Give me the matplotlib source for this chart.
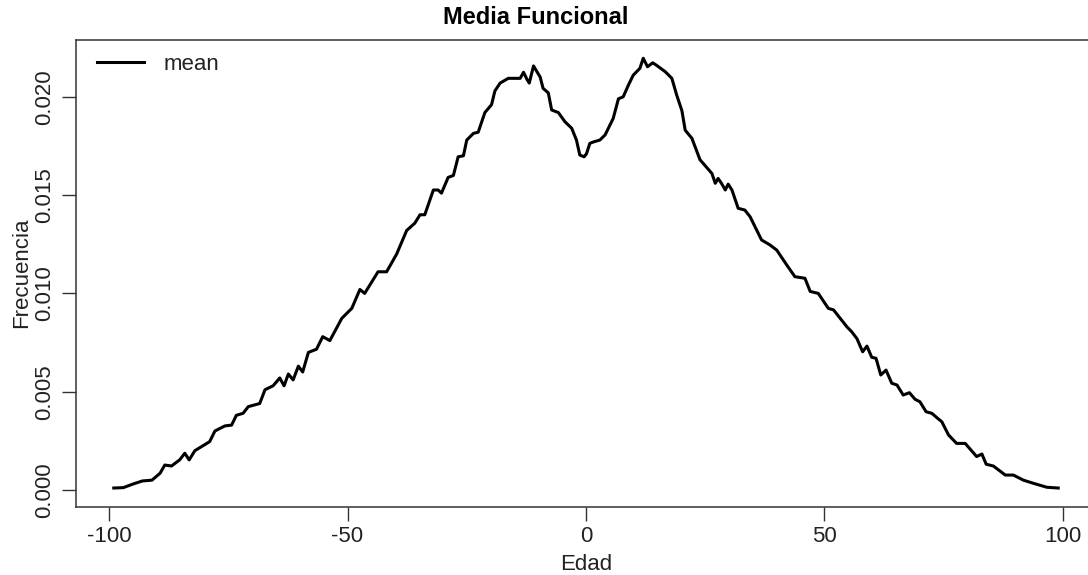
import matplotlib
matplotlib.use("Agg")
import matplotlib.pyplot as plt
from matplotlib.ticker import FormatStrFormatter

plt.rcParams['font.family'] = ['Liberation Sans', 'DejaVu Sans']
plt.rcParams['axes.unicode_minus'] = False

# Traced data (Edad vs Frecuencia)
edad = [-99, -97, -95, -93, -91, -89.3, -88.3, -86.9, -85.2, -84.1, -83.2, -82,
        -78.9, -77.8, -75.7, -74.3, -73.3, -71.9, -70.8, -68.4, -67.3, -65.6,
        -64.2, -63.3, -62.4, -61.4, -60.3, -59.4, -58.2, -56.5, -55.2, -53.7,
        -51.2, -49.1, -47.4, -46.4, -43.6, -41.8, -39.7, -37.6, -35.9, -34.8,
        -33.8, -32.0, -31.0, -30.3, -28.9, -27.8, -26.8, -25.7, -25.0, -23.6,
        -22.6, -21.2, -19.8, -19.1, -18.0, -16.3, -13.8, -13.1, -12.4, -11.9,
        -11.0, -9.6, -9.0, -7.9, -7.2, -5.8, -4.4, -3.0, -2.0, -1.3, -0.4, 0.1,
        0.8, 1.5, 2.9, 4.0, 5.7, 6.8, 7.8, 8.9, 9.9, 11.3, 12.0, 12.9, 14.0,
        14.8, 16.6, 18.0, 19.0, 20.1, 20.8, 22.2, 23.9, 26.4, 27.1, 27.7, 28.4,
        29.2, 29.8, 30.6, 31.9, 33.3, 34.4, 36.8, 38.6, 40.0, 42.1, 43.8, 45.9,
        47.0, 48.7, 50.8, 51.9, 53.3, 54.7, 55.7, 56.8, 58.0, 58.9, 59.9, 60.8,
        61.8, 62.9, 64.1, 65.2, 66.5, 67.8, 69.0, 70.0, 71.3, 72.5, 73.7, 74.6,
        76.0, 77.7, 79.5, 81.9, 83.0, 83.9, 85.4, 87.9, 89.6, 91.7, 93.8, 96.6,
        99.0]
frecuencia = [0.0001, 0.00012, 0.0003, 0.00046, 0.0005, 0.00085, 0.00127,
              0.00122, 0.00153, 0.00187, 0.00153, 0.0020, 0.00246, 0.0030,
              0.00326, 0.0033, 0.0038, 0.0039, 0.00424, 0.0044, 0.0051, 0.0053,
              0.0057, 0.0053, 0.0059, 0.0056, 0.0063, 0.0060, 0.0070, 0.00716,
              0.0078, 0.0076, 0.00873, 0.00924, 0.0102, 0.0100, 0.0111, 0.0111,
              0.0120, 0.0132, 0.01357, 0.0140, 0.0140, 0.01526, 0.01526, 0.0151,
              0.0159, 0.0160, 0.01695, 0.0170, 0.0178, 0.01814, 0.0182, 0.0192,
              0.0196, 0.0203, 0.0207, 0.02094, 0.02094, 0.02125, 0.0209, 0.0207,
              0.02157, 0.0210, 0.02043, 0.0202, 0.01933, 0.0192, 0.01873, 0.0184,
              0.0178, 0.01704, 0.01695, 0.0171, 0.01763, 0.0177, 0.0178, 0.01806,
              0.0189, 0.0199, 0.0200, 0.0206, 0.0211, 0.02145, 0.02196, 0.02153,
              0.02173, 0.0216, 0.02128, 0.02094, 0.0201, 0.0193, 0.0183, 0.01789,
              0.0168, 0.0161, 0.0156, 0.01585, 0.0156, 0.01526, 0.01556, 0.01526,
              0.01433, 0.01424, 0.0139, 0.01272, 0.01246, 0.0122, 0.01144,
              0.01085, 0.01077, 0.0101, 0.0100, 0.00924, 0.00916, 0.00873,
              0.0083, 0.00805, 0.0077, 0.00703, 0.00732, 0.00675, 0.0067,
              0.00585, 0.0061, 0.00543, 0.00534, 0.00483, 0.00495, 0.00461,
              0.00449, 0.00398, 0.0039, 0.00365, 0.00347, 0.0028, 0.00237,
              0.00237, 0.0017, 0.00183, 0.00131, 0.00122, 0.00076, 0.00076,
              0.0005, 0.00034, 0.00014, 0.0001]

x_ticks = [-100, -50, 0, 50, 100]
y_ticks = [0.000, 0.005, 0.010, 0.015, 0.020]

W, H = 1088, 575
fig = plt.figure(figsize=(W / 100, H / 100), dpi=100)
ax = fig.add_axes([76 / W, (H - 507) / H, 1020 / W, 467 / H])

ax.plot(edad, frecuencia, color='black', lw=2.2, label='mean')
ax.set_xlim(-106.92, 106.92)
ax.set_ylim(-0.000865, 0.02289)

ax.set_xticks(x_ticks)
ax.set_yticks(y_ticks)
ax.yaxis.set_major_formatter(FormatStrFormatter('%.3f'))
ax.tick_params(axis='both', direction='out', length=10, width=1.0,
               color='#333333', labelsize=16, labelcolor='#222222')
ax.tick_params(axis='x', pad=4)
ax.tick_params(axis='y', pad=5)
for lab in ax.get_yticklabels():
    lab.set_rotation(90)
    lab.set_va('center')
for sp in ax.spines.values():
    sp.set_color('#333333')
    sp.set_linewidth(1.1)

fig.text(586 / W, 1 - 564 / H, 'Edad', ha='center', va='center',
         fontsize=16, color='#222222')
fig.text(22 / W, 1 - 273 / H, 'Frecuencia', ha='center', va='center',
         rotation=90, fontsize=16, color='#222222')
fig.text(536 / W, 1 - 18 / H, 'Media Funcional', ha='center', va='center',
         fontsize=17, fontweight='bold', color='black')

fig.legend(loc='center left', bbox_to_anchor=(97 / W, 1 - 64 / H),
           frameon=False, borderpad=0, borderaxespad=0, handlelength=2.1,
           handletextpad=0.9, fontsize=16, labelcolor='#222222')

fig.savefig('out.png', dpi=100)
